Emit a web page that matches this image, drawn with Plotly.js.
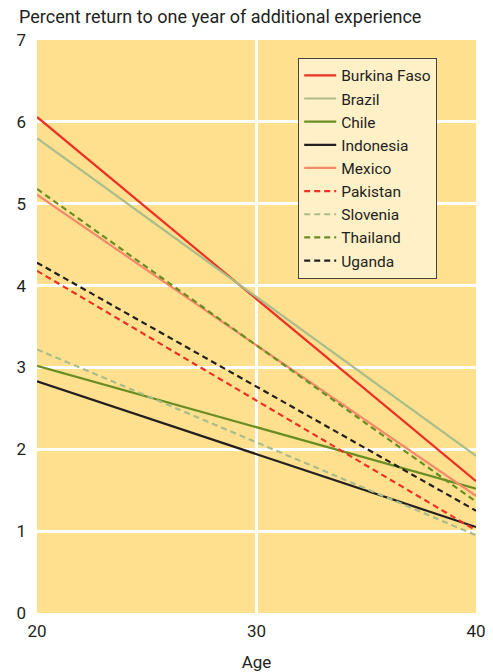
<!DOCTYPE html>
<html>
<head>
<meta charset="utf-8">
<script src="https://cdn.plot.ly/plotly-3.0.1.min.js"></script>
<style>body{margin:0;background:#fff;}#chart{width:493px;height:672px;}</style>
</head>
<body>
<div id="chart"></div>
<script>
const ages = [20, 40];
const countries = ["Burkina Faso","Brazil","Chile","Indonesia","Mexico","Pakistan","Slovenia","Thailand","Uganda"];
const burkinaFaso = [6.06, 1.61];
const brazil      = [5.80, 1.92];
const chile       = [3.02, 1.52];
const indonesia   = [2.83, 1.05];
const mexico      = [5.11, 1.43];
const pakistan    = [4.18, 1.01];
const slovenia    = [3.22, 0.95];
const thailand    = [5.18, 1.36];
const uganda      = [4.28, 1.25];
const series = [burkinaFaso, brazil, chile, indonesia, mexico, pakistan, slovenia, thailand, uganda];
const colors = ["#ee3124","#a9bd8a","#6b8e23","#231f20","#f4896b","#ee3124","#a9bd8a","#6b8e23","#231f20"];
const dashes = ["solid","solid","solid","solid","solid","6px,4px","6px,4px","6px,4px","6px,4px"];
const font = '"Liberation Sans Narrow", "Arial Narrow", "Roboto", sans-serif';

const traces = countries.map((c, i) => ({
  x: ages, y: series[i], name: c, type: 'scatter', mode: 'lines',
  line: {color: colors[i], width: 2.2, dash: dashes[i]}
}));

const layout = {
  width: 493, height: 672,
  margin: {l: 37, r: 17, t: 40, b: 59},
  paper_bgcolor: '#ffffff',
  plot_bgcolor: '#fee08f',
  font: {family: font, size: 17, color: '#231f20'},
  showlegend: true,
  legend: {
    x: 0.595, y: 0.969, xanchor: 'left', yanchor: 'top',
    bgcolor: '#fff0c8', bordercolor: '#444', borderwidth: 1,
    font: {family: font, size: 15.5, color: '#231f20'},
    tracegroupgap: 0, itemwidth: 32
  },
  xaxis: {
    range: [20, 40], tickvals: [20, 30, 40], ticktext: ["20","30","40"],
    showgrid: true, gridcolor: '#ffffff', gridwidth: 3, zeroline: false,
    showline: false, ticks: '', ticklabelstandoff: 6,
    tickfont: {family: font, size: 17},
    title: {text: 'Age', font: {family: font, size: 17}, standoff: 16}
  },
  yaxis: {
    range: [0, 7], tickvals: [0,1,2,3,4,5,6,7], ticktext: ["0","1","2","3","4","5","6","7"],
    showgrid: true, gridcolor: '#ffffff', gridwidth: 3, zeroline: false,
    showline: false, ticks: '', ticklabelstandoff: 10,
    tickfont: {family: font, size: 17}
  },
  annotations: [{
    text: 'Percent return to one year of additional experience',
    xref: 'paper', yref: 'paper', x: -0.046, y: 1.0, xanchor: 'left', yanchor: 'bottom',
    yshift: 11, showarrow: false, font: {family: font, size: 18, color: '#231f20'}
  }]
};

Plotly.newPlot('chart', traces, layout, {displayModeBar: false, staticPlot: true});
</script>
</body>
</html>
